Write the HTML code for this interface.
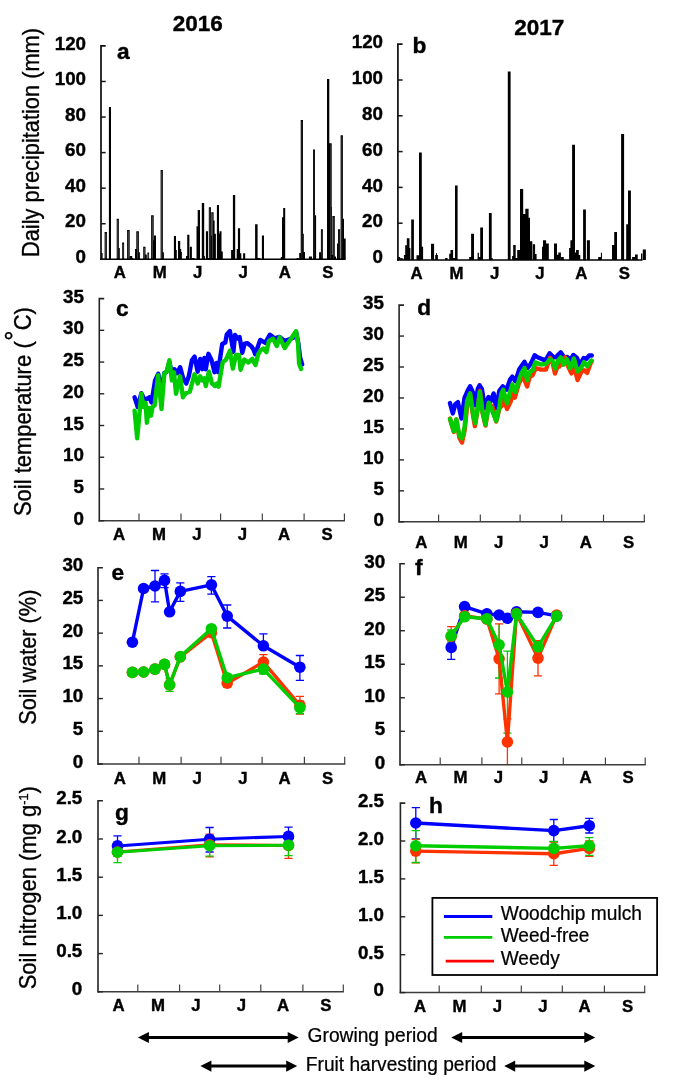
<!DOCTYPE html>
<html lang="en">
<head>
<meta charset="utf-8">
<title>Figure: precipitation, soil temperature, soil water and soil nitrogen, 2016 and 2017</title>
<style>
html,body{margin:0;padding:0;background:#fff;}
body{width:685px;height:1080px;overflow:hidden;}
svg{display:block;}
svg text{font-family:"Liberation Sans", sans-serif;fill:#000;}
</style>
</head>
<body>
<svg width="685" height="1080" viewBox="0 0 685 1080">
<rect width="685" height="1080" fill="#fff"/>
<path d="M100.9,259.5V253.0H102.6V259.5ZM104.6,259.5V232.0H106.9V259.5ZM108.9,259.5V107.0H111.0V259.5ZM116.7,259.5V218.8H118.9V259.5ZM117.9,259.5V248.1H119.8V259.5ZM122.1,259.5V242.6H124.1V259.5ZM127.1,259.5V230.1H129.7V259.5ZM129.9,259.5V256.0H132.2V259.5ZM132.2,259.5V258.0H133.3V259.5ZM135.0,259.5V249.1H137.3V259.5ZM136.3,259.5V231.3H138.9V259.5ZM138.4,259.5V252.2H139.9V259.5ZM143.2,259.5V246.7H145.5V259.5ZM145.2,259.5V254.5H146.8V259.5ZM147.4,259.5V252.5H149.1V259.5ZM151.1,259.5V215.2H153.7V259.5ZM152.7,259.5V240.2H154.2V259.5ZM154.0,259.5V235.6H156.0V259.5ZM160.6,259.5V170.0H162.9V259.5ZM161.9,259.5V252.2H163.9V259.5ZM173.9,259.5V236.1H176.0V259.5ZM175.3,259.5V249.9H176.8V259.5ZM178.0,259.5V240.9H180.2V259.5ZM179.4,259.5V249.1H181.2V259.5ZM180.6,259.5V252.0H181.9V259.5ZM186.0,259.5V256.0H187.5V259.5ZM187.2,259.5V234.8H189.4V259.5ZM189.9,259.5V246.7H191.9V259.5ZM192.1,259.5V258.0H194.7V259.5ZM196.5,259.5V226.2H198.3V259.5ZM197.7,259.5V209.9H200.0V259.5ZM201.8,259.5V202.9H204.2V259.5ZM203.4,259.5V256.0H204.9V259.5ZM205.9,259.5V231.2H208.0V259.5ZM207.8,259.5V258.0H209.0V259.5ZM208.8,259.5V207.2H211.0V259.5ZM210.0,259.5V235.8H211.8V259.5ZM211.3,259.5V212.3H213.6V259.5ZM212.8,259.5V220.5H214.6V259.5ZM214.1,259.5V233.8H215.9V259.5ZM216.9,259.5V205.0H219.0V259.5ZM218.2,259.5V233.8H220.0V259.5ZM219.5,259.5V231.2H221.5V259.5ZM221.0,259.5V251.5H222.8V259.5ZM231.1,259.5V249.9H233.1V259.5ZM232.9,259.5V194.9H235.2V259.5ZM236.7,259.5V249.1H238.5V259.5ZM237.9,259.5V228.3H240.1V259.5ZM239.2,259.5V253.2H241.3V259.5ZM243.1,259.5V253.2H245.2V259.5ZM255.1,259.5V224.2H257.6V259.5ZM257.6,259.5V258.0H260.2V259.5ZM261.9,259.5V235.6H264.0V259.5ZM280.8,259.5V257.0H282.7V259.5ZM282.0,259.5V217.2H284.0V259.5ZM283.2,259.5V208.0H285.2V259.5ZM296.6,259.5V258.0H298.7V259.5ZM299.2,259.5V253.0H301.0V259.5ZM300.7,259.5V120.1H303.0V259.5ZM302.0,259.5V233.8H303.8V259.5ZM303.3,259.5V252.0H305.0V259.5ZM308.9,259.5V256.5H312.0V259.5ZM313.0,259.5V149.4H315.0V259.5ZM314.2,259.5V215.2H316.1V259.5ZM319.1,259.5V252.2H321.0V259.5ZM320.9,259.5V229.3H322.9V259.5ZM327.0,259.5V79.1H329.3V259.5ZM329.3,259.5V143.3H331.7V259.5ZM328.8,259.5V207.0H331.9V259.5ZM331.7,259.5V255.0H333.0V259.5ZM332.4,259.5V216.0H334.8V259.5ZM334.6,259.5V256.5H336.0V259.5ZM337.0,259.5V243.6H338.8V259.5ZM338.0,259.5V229.3H340.1V259.5ZM340.6,259.5V135.3H342.9V259.5ZM341.9,259.5V218.8H344.0V259.5ZM343.1,259.5V238.5H345.7V259.5Z" fill="#000"/>
<path d="M105.75,258.5V233.2M117.80,258.5V220.0M123.10,258.5V243.8M128.40,258.5V231.3M137.60,258.5V232.5M144.35,258.5V247.9M148.25,258.5V253.7M152.40,258.5V216.4M161.75,258.5V171.2M209.90,258.5V208.4M212.45,258.5V213.5" fill="none" stroke="#fff" stroke-width="0.7" opacity="0.38"/>
<path d="M301.85,258.5V121.3M314.00,258.5V150.6M321.90,258.5V230.5M330.50,258.5V144.5M333.60,258.5V217.2M339.05,258.5V230.5M341.75,258.5V136.5" fill="none" stroke="#fff" stroke-width="0.7" opacity="0.25"/>
<path d="M397.6,260.1V257.0H400.1V260.1ZM400.1,260.1V258.5H403.2V260.1ZM403.9,260.1V255.0H406.1V260.1ZM405.2,260.1V245.3H407.1V260.1ZM406.8,260.1V238.2H409.5V260.1ZM408.3,260.1V248.1H410.4V260.1ZM411.2,260.1V219.5H413.9V260.1ZM416.5,260.1V255.2H419.0V260.1ZM419.0,260.1V152.5H421.8V260.1ZM420.4,260.1V246.7H423.1V260.1ZM431.0,260.1V243.8H434.1V260.1ZM435.2,260.1V255.0H437.9V260.1ZM436.0,260.1V253.0H436.9V260.1ZM445.1,260.1V257.9H447.6V260.1ZM449.2,260.1V253.8H451.2V260.1ZM450.5,260.1V249.9H453.1V260.1ZM452.8,260.1V257.9H455.3V260.1ZM455.0,260.1V185.5H457.6V260.1ZM469.2,260.1V257.0H471.3V260.1ZM471.1,260.1V233.8H474.0V260.1ZM477.6,260.1V252.8H478.9V260.1ZM478.4,260.1V257.0H480.5V260.1ZM480.2,260.1V227.4H483.0V260.1ZM488.9,260.1V213.1H491.7V260.1ZM491.2,260.1V258.0H492.7V260.1ZM507.8,260.1V71.6H510.6V260.1ZM512.1,260.1V256.0H514.2V260.1ZM513.2,260.1V245.0H515.7V260.1ZM515.7,260.1V258.0H517.8V260.1ZM517.2,260.1V249.9H520.1V260.1ZM520.0,260.1V189.1H523.2V260.1ZM522.9,260.1V214.0H525.5V260.1ZM525.3,260.1V208.8H528.6V260.1ZM528.2,260.1V217.7H530.0V260.1ZM529.7,260.1V241.2H532.3V260.1ZM532.8,260.1V244.3H535.1V260.1ZM534.8,260.1V254.0H536.6V260.1ZM542.0,260.1V246.7H543.5V260.1ZM543.0,260.1V240.2H546.1V260.1ZM545.8,260.1V243.6H548.8V260.1ZM554.0,260.1V243.6H557.0V260.1ZM556.8,260.1V254.8H558.9V260.1ZM558.3,260.1V252.5H560.9V260.1ZM561.1,260.1V257.0H563.8V260.1ZM569.1,260.1V248.1H571.1V260.1ZM570.4,260.1V240.2H572.6V260.1ZM572.1,260.1V144.8H575.0V260.1ZM574.7,260.1V252.5H576.2V260.1ZM576.0,260.1V249.9H578.8V260.1ZM578.5,260.1V255.0H580.3V260.1ZM583.1,260.1V209.6H585.9V260.1ZM586.9,260.1V240.2H589.9V260.1ZM598.2,260.1V257.0H601.5V260.1ZM600.9,260.1V252.8H602.0V260.1ZM612.0,260.1V245.0H614.7V260.1ZM614.2,260.1V232.0H617.0V260.1ZM621.1,260.1V134.0H624.1V260.1ZM626.2,260.1V224.2H628.2V260.1ZM628.0,260.1V190.5H630.9V260.1ZM632.1,260.1V257.0H635.2V260.1ZM635.0,260.1V254.5H637.7V260.1ZM641.0,260.1V253.5H642.3V260.1ZM642.8,260.1V249.4H645.9V260.1Z" fill="#000"/>
<path d="M134.6,397.3 L137.7,407.0 L141.3,393.2 L144.9,400.4 L146.9,398.8 L149.3,397.3 L151.5,402.4 L155.1,380.4 L158.3,373.8 L161.5,392.0 L164.3,373.0 L166.8,371.8 L169.4,362.0 L172.0,375.0 L174.5,369.2 L177.1,373.3 L180.1,367.2 L183.2,378.4 L186.2,383.5 L188.8,376.3 L192.0,360.0 L194.6,356.7 L197.7,371.7 L200.2,358.9 L202.3,369.2 L204.3,357.9 L205.8,369.2 L208.4,353.8 L211.5,360.0 L214.5,372.2 L216.4,363.0 L218.1,372.2 L222.2,344.1 L225.3,342.6 L226.8,334.4 L229.9,331.1 L233.4,351.8 L235.0,334.9 L237.5,338.5 L239.6,337.0 L242.3,352.8 L244.7,343.6 L247.2,343.1 L251.3,346.2 L253.5,349.5 L255.2,354.3 L260.2,339.9 L265.3,342.9 L269.9,334.7 L274.5,338.3 L279.6,337.0 L284.7,340.9 L287.8,339.9 L292.9,338.0 L296.0,331.7 L298.3,342.9 L300.0,357.0 L302.1,364.4" fill="none" stroke="#0000ff" stroke-width="4.4" stroke-linejoin="round" stroke-linecap="round" />
<path d="M134.6,410.6 L137.2,438.2 L141.3,393.7 L143.3,407.0 L145.6,402.9 L146.9,422.8 L148.9,408.0 L151.0,415.7 L152.5,407.0 L154.6,405.5 L158.1,375.3 L161.5,409.0 L164.3,373.8 L167.0,370.7 L169.4,360.2 L171.9,380.4 L174.0,372.3 L176.0,393.7 L180.1,376.3 L182.9,397.3 L185.7,393.2 L189.8,391.7 L194.5,374.3 L197.7,383.5 L200.2,376.3 L202.3,380.4 L204.3,378.4 L205.8,386.0 L208.9,371.7 L212.0,383.5 L215.0,386.0 L216.8,383.5 L218.6,386.5 L222.7,362.0 L225.8,360.0 L229.9,350.8 L232.9,368.6 L236.0,354.9 L239.0,354.9 L240.6,369.7 L244.2,359.5 L248.2,362.5 L252.3,358.9 L255.5,365.0 L258.2,354.2 L260.7,350.1 L263.3,348.5 L266.4,352.1 L268.9,340.9 L273.0,338.8 L276.8,346.0 L279.6,337.3 L284.7,348.0 L290.9,338.8 L296.0,331.2 L298.0,342.9 L299.1,363.4 L301.1,369.0" fill="none" stroke="#00cc00" stroke-width="4.4" stroke-linejoin="round" stroke-linecap="round" />
<path d="M450.0,403.1 L452.8,413.4 L455.3,404.2 L457.9,402.1 L461.5,418.5 L464.5,398.0 L467.6,390.9 L470.1,386.3 L473.2,392.9 L475.3,405.2 L477.8,388.8 L479.6,385.3 L481.9,389.0 L485.0,408.2 L488.5,397.0 L491.0,401.0 L493.6,393.4 L496.2,408.2 L499.3,390.9 L502.8,386.3 L506.5,389.7 L510.2,379.3 L512.3,376.7 L515.3,381.3 L519.4,369.0 L524.5,361.9 L527.6,368.0 L530.7,363.9 L534.7,355.3 L538.8,357.8 L543.9,359.9 L546.5,358.8 L549.6,353.2 L553.1,356.8 L555.7,357.4 L560.7,352.3 L564.3,357.4 L567.3,357.0 L570.3,360.1 L573.4,355.0 L577.0,358.0 L579.5,365.2 L583.6,358.0 L586.2,359.0 L589.2,355.5 L591.8,355.5" fill="none" stroke="#0000ff" stroke-width="4.4" stroke-linejoin="round" stroke-linecap="round" />
<path d="M450.0,418.5 L453.8,432.0 L456.3,419.5 L459.4,437.9 L462.0,442.5 L464.8,429.5 L467.4,403.0 L470.1,393.9 L473.2,416.4 L474.9,426.1 L477.8,408.2 L479.9,390.9 L482.4,412.3 L485.5,425.6 L488.8,403.1 L492.6,407.2 L496.2,421.5 L499.6,408.0 L502.3,405.2 L503.4,398.0 L507.0,408.9 L510.7,401.5 L512.3,393.5 L514.8,397.7 L518.9,383.4 L523.0,376.2 L527.1,386.4 L529.6,377.2 L532.7,375.2 L535.8,368.0 L540.9,369.6 L546.0,369.6 L550.1,357.8 L552.6,362.9 L555.0,373.6 L557.7,366.0 L559.3,366.5 L561.3,360.9 L563.3,364.6 L565.2,357.3 L568.0,366.1 L571.4,373.4 L574.4,367.2 L577.5,380.0 L581.6,371.3 L584.1,370.3 L587.2,372.8 L590.2,364.2 L591.8,361.1" fill="none" stroke="#ff3300" stroke-width="4.4" stroke-linejoin="round" stroke-linecap="round" />
<path d="M450.0,419.0 L453.8,431.2 L456.3,419.5 L459.4,435.8 L462.0,438.4 L464.5,427.7 L467.1,401.1 L470.1,393.4 L473.2,415.4 L475.3,423.1 L477.8,407.2 L479.9,391.9 L482.4,411.3 L485.5,424.6 L488.8,402.6 L492.1,410.8 L496.2,421.0 L499.3,407.2 L501.3,393.9 L503.2,389.7 L507.0,403.2 L512.3,384.4 L515.3,392.0 L518.9,380.3 L521.5,373.1 L524.5,368.0 L527.1,380.3 L529.6,372.1 L532.7,370.1 L535.3,362.4 L540.9,364.5 L546.0,363.9 L550.1,359.3 L552.6,360.9 L555.2,368.5 L557.7,361.0 L560.7,357.4 L563.3,364.6 L566.8,359.1 L570.2,368.1 L573.9,358.5 L577.5,371.3 L581.0,368.0 L584.1,362.1 L587.2,366.2 L591.3,360.6" fill="none" stroke="#00cc00" stroke-width="4.4" stroke-linejoin="round" stroke-linecap="round" />
<path d="M155.0,570.5V601.9M150.9,570.5H159.1M150.9,601.9H159.1M164.5,573.9V587.7M160.4,573.9H168.6M160.4,587.7H168.6M180.3,582.9V601.3M176.2,582.9H184.4M176.2,601.3H184.4M211.4,576.6V594.2M207.3,576.6H215.5M207.3,594.2H215.5M227.2,605.0V628.0M223.1,605.0H231.3M223.1,628.0H231.3M263.4,633.9V650.0M259.3,633.9H267.5M299.9,655.5V680.4M295.8,655.5H304.0M295.8,680.4H304.0" fill="none" stroke="#0000ff" stroke-width="1.3"/>
<path d="M263.4,654.6V669.6M259.3,654.6H267.5M259.3,669.6H267.5M299.9,696.3V714.2M295.8,696.3H304.0M295.8,714.2H304.0M227.2,679.0V687.0M223.1,679.0H231.3M223.1,687.0H231.3" fill="none" stroke="#ff3300" stroke-width="1.3"/>
<path d="M169.6,678.5V691.4M165.5,678.5H173.7M165.5,691.4H173.7M299.9,701.0V713.6M295.8,701.0H304.0M295.8,713.6H304.0M263.4,664.0V674.0M259.3,664.0H267.5M259.3,674.0H267.5" fill="none" stroke="#00cc00" stroke-width="1.3"/>
<path d="M132.4,642.2 L143.6,588.5 L155.0,586.0 L164.5,580.4 L169.6,611.8 L180.3,591.4 L211.4,584.9 L227.2,616.1 L263.4,645.8 L299.9,667.2" fill="none" stroke="#0000ff" stroke-width="3.4" stroke-linejoin="round" stroke-linecap="round" />
<g fill="#0000ff"><circle cx="132.4" cy="642.2" r="5.8"/><circle cx="143.6" cy="588.5" r="5.8"/><circle cx="155.0" cy="586.0" r="5.8"/><circle cx="164.5" cy="580.4" r="5.8"/><circle cx="169.6" cy="611.8" r="5.8"/><circle cx="180.3" cy="591.4" r="5.8"/><circle cx="211.4" cy="584.9" r="5.8"/><circle cx="227.2" cy="616.1" r="5.8"/><circle cx="263.4" cy="645.8" r="5.8"/><circle cx="299.9" cy="667.2" r="5.8"/></g>
<path d="M132.4,672.4 L143.6,672.0 L155.0,669.1 L164.5,664.4 L169.6,684.8 L180.3,657.0 L211.4,632.7 L227.2,683.2 L263.4,662.1 L299.9,705.4" fill="none" stroke="#ff3300" stroke-width="3.4" stroke-linejoin="round" stroke-linecap="round" />
<g fill="#ff3300"><circle cx="132.4" cy="672.4" r="5.8"/><circle cx="143.6" cy="672.0" r="5.8"/><circle cx="155.0" cy="669.1" r="5.8"/><circle cx="164.5" cy="664.4" r="5.8"/><circle cx="169.6" cy="684.8" r="5.8"/><circle cx="180.3" cy="657.0" r="5.8"/><circle cx="211.4" cy="632.7" r="5.8"/><circle cx="227.2" cy="683.2" r="5.8"/><circle cx="263.4" cy="662.1" r="5.8"/><circle cx="299.9" cy="705.4" r="5.8"/></g>
<path d="M132.4,672.4 L143.6,672.0 L155.0,669.1 L164.5,664.4 L169.6,684.8 L180.3,656.6 L211.4,628.7 L227.2,677.7 L263.4,669.1 L299.9,707.7" fill="none" stroke="#00cc00" stroke-width="3.4" stroke-linejoin="round" stroke-linecap="round" />
<g fill="#00cc00"><circle cx="132.4" cy="672.4" r="5.8"/><circle cx="143.6" cy="672.0" r="5.8"/><circle cx="155.0" cy="669.1" r="5.8"/><circle cx="164.5" cy="664.4" r="5.8"/><circle cx="169.6" cy="684.8" r="5.8"/><circle cx="180.3" cy="656.6" r="5.8"/><circle cx="211.4" cy="628.7" r="5.8"/><circle cx="227.2" cy="677.7" r="5.8"/><circle cx="263.4" cy="669.1" r="5.8"/><circle cx="299.9" cy="707.7" r="5.8"/></g>
<path d="M451.2,636.0V659.3M447.1,636.0H455.3M447.1,659.3H455.3" fill="none" stroke="#0000ff" stroke-width="1.3"/>
<path d="M451.2,626.7V646.0M447.1,626.7H455.3M447.1,646.0H455.3M499.1,623.8V693.9M495.0,623.8H503.2M495.0,693.9H503.2M507.4,718.8V764.0M503.3,718.8H511.5M538.0,640.6V675.9M533.9,640.6H542.1M533.9,675.9H542.1" fill="none" stroke="#ff3300" stroke-width="1.3"/>
<path d="M451.2,630.0V642.0M447.1,630.0H455.3M447.1,642.0H455.3M499.1,624.4V678.0M495.0,678.0H503.2M507.4,651.1V733.1M503.3,651.1H511.5M503.3,733.1H511.5" fill="none" stroke="#00cc00" stroke-width="1.3"/>
<path d="M451.2,647.4 L464.6,606.6 L486.9,613.9 L499.1,615.0 L507.4,618.2 L516.5,611.8 L538.0,612.4 L556.6,615.8" fill="none" stroke="#0000ff" stroke-width="3.4" stroke-linejoin="round" stroke-linecap="round" />
<g fill="#0000ff"><circle cx="451.2" cy="647.4" r="5.8"/><circle cx="464.6" cy="606.6" r="5.8"/><circle cx="486.9" cy="613.9" r="5.8"/><circle cx="499.1" cy="615.0" r="5.8"/><circle cx="507.4" cy="618.2" r="5.8"/><circle cx="516.5" cy="611.8" r="5.8"/><circle cx="538.0" cy="612.4" r="5.8"/><circle cx="556.6" cy="615.8" r="5.8"/></g>
<path d="M451.2,636.5 L464.6,615.8 L486.9,619.2 L499.1,658.8 L507.4,741.9 L516.5,613.5 L538.0,658.1 L556.6,615.0" fill="none" stroke="#ff3300" stroke-width="3.4" stroke-linejoin="round" stroke-linecap="round" />
<g fill="#ff3300"><circle cx="451.2" cy="636.5" r="5.8"/><circle cx="464.6" cy="615.8" r="5.8"/><circle cx="486.9" cy="619.2" r="5.8"/><circle cx="499.1" cy="658.8" r="5.8"/><circle cx="507.4" cy="741.9" r="5.8"/><circle cx="516.5" cy="613.5" r="5.8"/><circle cx="538.0" cy="658.1" r="5.8"/><circle cx="556.6" cy="615.0" r="5.8"/></g>
<path d="M451.2,635.8 L464.6,616.8 L486.9,618.7 L499.1,644.8 L507.4,692.0 L516.5,613.9 L538.0,646.8 L556.6,616.1" fill="none" stroke="#00cc00" stroke-width="3.4" stroke-linejoin="round" stroke-linecap="round" />
<g fill="#00cc00"><circle cx="451.2" cy="635.8" r="5.8"/><circle cx="464.6" cy="616.8" r="5.8"/><circle cx="486.9" cy="618.7" r="5.8"/><circle cx="499.1" cy="644.8" r="5.8"/><circle cx="507.4" cy="692.0" r="5.8"/><circle cx="516.5" cy="613.9" r="5.8"/><circle cx="538.0" cy="646.8" r="5.8"/><circle cx="556.6" cy="616.1" r="5.8"/></g>
<path d="M117.5,835.9V856.0M113.4,835.9H121.6M113.4,856.0H121.6M209.6,827.5V852.0M205.5,827.5H213.7M205.5,852.0H213.7M288.5,827.2V845.6M284.4,827.2H292.6M284.4,845.6H292.6" fill="none" stroke="#0000ff" stroke-width="1.3"/>
<path d="M117.5,843.0V860.0M113.4,843.0H121.6M209.6,834.2V856.9M205.5,834.2H213.7M205.5,856.9H213.7M288.5,833.0V858.3M284.4,833.0H292.6M284.4,858.3H292.6" fill="none" stroke="#ff3300" stroke-width="1.3"/>
<path d="M117.5,842.0V862.7M113.4,842.0H121.6M113.4,862.7H121.6M209.6,835.5V856.1M205.5,835.5H213.7M205.5,856.1H213.7M288.5,834.7V855.7M284.4,834.7H292.6M284.4,855.7H292.6" fill="none" stroke="#00cc00" stroke-width="1.3"/>
<path d="M117.5,845.9 L209.6,839.2 L288.5,836.4" fill="none" stroke="#0000ff" stroke-width="3.0" stroke-linejoin="round" stroke-linecap="round" />
<g fill="#0000ff"><circle cx="117.5" cy="845.9" r="5.8"/><circle cx="209.6" cy="839.2" r="5.8"/><circle cx="288.5" cy="836.4" r="5.8"/></g>
<path d="M117.5,852.0 L209.6,844.7 L288.5,845.4" fill="none" stroke="#ff3300" stroke-width="3.0" stroke-linejoin="round" stroke-linecap="round" />
<g fill="#ff3300"><circle cx="117.5" cy="852.0" r="5.8"/><circle cx="209.6" cy="844.7" r="5.8"/><circle cx="288.5" cy="845.4" r="5.8"/></g>
<path d="M117.5,852.2 L209.6,845.7 L288.5,845.2" fill="none" stroke="#00cc00" stroke-width="3.0" stroke-linejoin="round" stroke-linecap="round" />
<g fill="#00cc00"><circle cx="117.5" cy="852.2" r="5.8"/><circle cx="209.6" cy="845.7" r="5.8"/><circle cx="288.5" cy="845.2" r="5.8"/></g>
<path d="M415.8,807.6V838.8M411.7,807.6H419.9M411.7,838.8H419.9M553.8,819.5V841.6M549.7,819.5H557.9M549.7,841.6H557.9M589.3,818.3V833.0M585.2,818.3H593.4M585.2,833.0H593.4" fill="none" stroke="#0000ff" stroke-width="1.3"/>
<path d="M415.8,839.3V862.8M411.7,839.3H419.9M411.7,862.8H419.9M553.8,842.2V865.4M549.7,842.2H557.9M549.7,865.4H557.9M589.3,841.0V856.3M585.2,841.0H593.4M585.2,856.3H593.4" fill="none" stroke="#ff3300" stroke-width="1.3"/>
<path d="M415.8,830.6V862.5M411.7,830.6H419.9M411.7,862.5H419.9M553.8,841.4V855.5M549.7,841.4H557.9M549.7,855.5H557.9M589.3,837.6V855.4M585.2,837.6H593.4M585.2,855.4H593.4" fill="none" stroke="#00cc00" stroke-width="1.3"/>
<path d="M415.8,823.0 L553.8,830.6 L589.3,825.7" fill="none" stroke="#0000ff" stroke-width="3.4" stroke-linejoin="round" stroke-linecap="round" />
<g fill="#0000ff"><circle cx="415.8" cy="823.0" r="5.8"/><circle cx="553.8" cy="830.6" r="5.8"/><circle cx="589.3" cy="825.7" r="5.8"/></g>
<path d="M415.8,851.1 L553.8,853.7 L589.3,848.4" fill="none" stroke="#ff3300" stroke-width="3.4" stroke-linejoin="round" stroke-linecap="round" />
<g fill="#ff3300"><circle cx="415.8" cy="851.1" r="5.8"/><circle cx="553.8" cy="853.7" r="5.8"/><circle cx="589.3" cy="848.4" r="5.8"/></g>
<path d="M415.8,845.8 L553.8,848.4 L589.3,845.8" fill="none" stroke="#00cc00" stroke-width="3.4" stroke-linejoin="round" stroke-linecap="round" />
<g fill="#00cc00"><circle cx="415.8" cy="845.8" r="5.8"/><circle cx="553.8" cy="848.4" r="5.8"/><circle cx="589.3" cy="845.8" r="5.8"/></g>
<rect x="432.4" y="897.9" width="224.7" height="77.1" fill="#fff" stroke="#000" stroke-width="1.8"/>
<line x1="443.90" y1="916.50" x2="492.30" y2="916.50" stroke="#0000ff" stroke-width="2.8" />
<line x1="443.90" y1="937.30" x2="492.30" y2="937.30" stroke="#00cc00" stroke-width="2.8" />
<line x1="445.70" y1="961.10" x2="494.00" y2="961.10" stroke="#ff0000" stroke-width="2.8" />
<text transform="translate(500.70,919.60) scale(0.965,1)" font-size="19.8" font-weight="normal" text-anchor="start" stroke="#000" stroke-width="0.25" textLength="146.3" lengthAdjust="spacingAndGlyphs">Woodchip mulch</text>
<text transform="translate(500.70,942.40) scale(0.965,1)" font-size="19.8" font-weight="normal" text-anchor="start" stroke="#000" stroke-width="0.25" >Weed-free</text>
<text transform="translate(500.70,964.60) scale(0.965,1)" font-size="19.8" font-weight="normal" text-anchor="start" stroke="#000" stroke-width="0.25" >Weedy</text>
<text x="197.70" y="31.30" font-size="22.5" font-weight="bold" text-anchor="middle" stroke="#000" stroke-width="0.4" >2016</text>
<text x="539.30" y="35.10" font-size="22.5" font-weight="bold" text-anchor="middle" stroke="#000" stroke-width="0.4" >2017</text>
<text transform="translate(39.40,257.00) rotate(-90) scale(0.944,1)" font-size="23.3" stroke="#000" stroke-width="0.35"><tspan textLength="242.6" lengthAdjust="spacingAndGlyphs">Daily precipitation (mm)</tspan></text>
<text transform="translate(31.40,516.10) rotate(-90) scale(0.944,1)" font-size="23.3" stroke="#000" stroke-width="0.35"><tspan x="0">Soil temperature</tspan><tspan x="177.5">(</tspan><tspan x="185.8" dy="-7.7" font-size="27">°</tspan><tspan x="196.8" dy="7.7">C)</tspan></text>
<text transform="translate(36.40,724.80) rotate(-90) scale(0.944,1)" font-size="23.3" stroke="#000" stroke-width="0.35"><tspan textLength="143.2" lengthAdjust="spacingAndGlyphs">Soil water (%)</tspan></text>
<text transform="translate(36.20,989.30) rotate(-90) scale(0.944,1)" font-size="23.3" stroke="#000" stroke-width="0.35"><tspan x="0">Soil nitrogen (mg g</tspan><tspan dy="-8.5" font-size="13.5">-1</tspan><tspan dy="8.5">)</tspan></text>
<path d="M147.9,1037.5H288.7" stroke="#000" stroke-width="3.0" fill="none"/>
<path d="M137.9,1037.5l11,-5.6v11.2zM298.7,1037.5l-11,-5.6v11.2z" fill="#000"/>
<path d="M210.4,1066.1H287.2" stroke="#000" stroke-width="3.0" fill="none"/>
<path d="M200.4,1066.1l11,-5.6v11.2zM297.2,1066.1l-11,-5.6v11.2z" fill="#000"/>
<path d="M461.2,1037.5H585.3" stroke="#000" stroke-width="3.0" fill="none"/>
<path d="M451.2,1037.5l11,-5.6v11.2zM595.3,1037.5l-11,-5.6v11.2z" fill="#000"/>
<path d="M514.2,1066.1H585.3" stroke="#000" stroke-width="3.0" fill="none"/>
<path d="M504.2,1066.1l11,-5.6v11.2zM595.3,1066.1l-11,-5.6v11.2z" fill="#000"/>
<text transform="translate(307.60,1042.20) scale(0.965,1)" font-size="19.8" font-weight="normal" text-anchor="start" stroke="#000" stroke-width="0.25" textLength="134.8" lengthAdjust="spacingAndGlyphs">Growing period</text>
<text transform="translate(305.80,1070.50) scale(0.965,1)" font-size="19.8" font-weight="normal" text-anchor="start" stroke="#000" stroke-width="0.25" textLength="197.5" lengthAdjust="spacingAndGlyphs">Fruit harvesting period</text>
<path d="M105.70,45.90 H101.00 V260.00" fill="none" stroke="#141414" stroke-width="1.75"/>
<path d="M100.12,259.30 H345.50" fill="none" stroke="#000" stroke-width="1.4"/>
<line x1="101.00" y1="259.30" x2="105.70" y2="259.30" stroke="#141414" stroke-width="1.5" />
<text transform="translate(86.00,262.90) scale(1.02,1)" font-size="18.4" font-weight="bold" text-anchor="end" stroke="#000" stroke-width="0.4" >0</text>
<line x1="101.00" y1="223.73" x2="105.70" y2="223.73" stroke="#141414" stroke-width="1.5" />
<text transform="translate(86.00,227.33) scale(1.02,1)" font-size="18.4" font-weight="bold" text-anchor="end" stroke="#000" stroke-width="0.4" >20</text>
<line x1="101.00" y1="188.17" x2="105.70" y2="188.17" stroke="#141414" stroke-width="1.5" />
<text transform="translate(86.00,191.77) scale(1.02,1)" font-size="18.4" font-weight="bold" text-anchor="end" stroke="#000" stroke-width="0.4" >40</text>
<line x1="101.00" y1="152.60" x2="105.70" y2="152.60" stroke="#141414" stroke-width="1.5" />
<text transform="translate(86.00,156.20) scale(1.02,1)" font-size="18.4" font-weight="bold" text-anchor="end" stroke="#000" stroke-width="0.4" >60</text>
<line x1="101.00" y1="117.03" x2="105.70" y2="117.03" stroke="#141414" stroke-width="1.5" />
<text transform="translate(86.00,120.63) scale(1.02,1)" font-size="18.4" font-weight="bold" text-anchor="end" stroke="#000" stroke-width="0.4" >80</text>
<line x1="101.00" y1="81.47" x2="105.70" y2="81.47" stroke="#141414" stroke-width="1.5" />
<text transform="translate(86.00,85.07) scale(1.02,1)" font-size="18.4" font-weight="bold" text-anchor="end" stroke="#000" stroke-width="0.4" >100</text>
<text transform="translate(86.00,49.50) scale(1.02,1)" font-size="18.4" font-weight="bold" text-anchor="end" stroke="#000" stroke-width="0.4" >120</text>
<text x="119.90" y="278.40" font-size="16.8" font-weight="bold" text-anchor="middle" stroke="#000" stroke-width="0.4" >A</text>
<text x="159.70" y="278.40" font-size="16.8" font-weight="bold" text-anchor="middle" stroke="#000" stroke-width="0.4" >M</text>
<text x="197.70" y="278.40" font-size="16.8" font-weight="bold" text-anchor="middle" stroke="#000" stroke-width="0.4" >J</text>
<text x="243.10" y="278.40" font-size="16.8" font-weight="bold" text-anchor="middle" stroke="#000" stroke-width="0.4" >J</text>
<text x="284.70" y="278.40" font-size="16.8" font-weight="bold" text-anchor="middle" stroke="#000" stroke-width="0.4" >A</text>
<text x="327.90" y="278.40" font-size="16.8" font-weight="bold" text-anchor="middle" stroke="#000" stroke-width="0.4" >S</text>
<text transform="translate(117.00,59.00) scale(1.03,1)" font-size="22" font-weight="bold" text-anchor="start" stroke="#000" stroke-width="0.4" >a</text>
<path d="M402.60,44.20 H397.90 V260.70" fill="none" stroke="#141414" stroke-width="1.75"/>
<path d="M397.02,260.00 H642.50" fill="none" stroke="#000" stroke-width="1.4"/>
<line x1="397.90" y1="259.00" x2="402.60" y2="259.00" stroke="#141414" stroke-width="1.5" />
<text transform="translate(383.00,263.20) scale(1.02,1)" font-size="18.4" font-weight="bold" text-anchor="end" stroke="#000" stroke-width="0.4" >0</text>
<line x1="397.90" y1="223.20" x2="402.60" y2="223.20" stroke="#141414" stroke-width="1.5" />
<text transform="translate(383.00,227.40) scale(1.02,1)" font-size="18.4" font-weight="bold" text-anchor="end" stroke="#000" stroke-width="0.4" >20</text>
<line x1="397.90" y1="187.40" x2="402.60" y2="187.40" stroke="#141414" stroke-width="1.5" />
<text transform="translate(383.00,191.60) scale(1.02,1)" font-size="18.4" font-weight="bold" text-anchor="end" stroke="#000" stroke-width="0.4" >40</text>
<line x1="397.90" y1="151.60" x2="402.60" y2="151.60" stroke="#141414" stroke-width="1.5" />
<text transform="translate(383.00,155.80) scale(1.02,1)" font-size="18.4" font-weight="bold" text-anchor="end" stroke="#000" stroke-width="0.4" >60</text>
<line x1="397.90" y1="115.80" x2="402.60" y2="115.80" stroke="#141414" stroke-width="1.5" />
<text transform="translate(383.00,120.00) scale(1.02,1)" font-size="18.4" font-weight="bold" text-anchor="end" stroke="#000" stroke-width="0.4" >80</text>
<line x1="397.90" y1="80.00" x2="402.60" y2="80.00" stroke="#141414" stroke-width="1.5" />
<text transform="translate(383.00,84.20) scale(1.02,1)" font-size="18.4" font-weight="bold" text-anchor="end" stroke="#000" stroke-width="0.4" >100</text>
<text transform="translate(383.00,48.40) scale(1.02,1)" font-size="18.4" font-weight="bold" text-anchor="end" stroke="#000" stroke-width="0.4" >120</text>
<text x="416.60" y="278.80" font-size="16.8" font-weight="bold" text-anchor="middle" stroke="#000" stroke-width="0.4" >A</text>
<text x="456.40" y="278.80" font-size="16.8" font-weight="bold" text-anchor="middle" stroke="#000" stroke-width="0.4" >M</text>
<text x="494.70" y="278.80" font-size="16.8" font-weight="bold" text-anchor="middle" stroke="#000" stroke-width="0.4" >J</text>
<text x="540.00" y="278.80" font-size="16.8" font-weight="bold" text-anchor="middle" stroke="#000" stroke-width="0.4" >J</text>
<text x="581.40" y="278.80" font-size="16.8" font-weight="bold" text-anchor="middle" stroke="#000" stroke-width="0.4" >A</text>
<text x="624.40" y="278.80" font-size="16.8" font-weight="bold" text-anchor="middle" stroke="#000" stroke-width="0.4" >S</text>
<text transform="translate(412.60,52.90) scale(1.03,1)" font-size="22" font-weight="bold" text-anchor="start" stroke="#000" stroke-width="0.4" >b</text>
<path d="M104.20,298.60 H99.30 V521.45" fill="none" stroke="#242424" stroke-width="1.6"/>
<path d="M98.50,520.70 H344.97" fill="none" stroke="#3c3c3c" stroke-width="1.5"/>
<line x1="99.30" y1="520.70" x2="104.20" y2="520.70" stroke="#242424" stroke-width="1.4" />
<text transform="translate(84.00,524.80) scale(1.02,1)" font-size="18.4" font-weight="bold" text-anchor="end" stroke="#000" stroke-width="0.4" >0</text>
<line x1="99.30" y1="488.97" x2="104.20" y2="488.97" stroke="#242424" stroke-width="1.4" />
<text transform="translate(84.00,493.07) scale(1.02,1)" font-size="18.4" font-weight="bold" text-anchor="end" stroke="#000" stroke-width="0.4" >5</text>
<line x1="99.30" y1="457.24" x2="104.20" y2="457.24" stroke="#242424" stroke-width="1.4" />
<text transform="translate(84.00,461.34) scale(1.02,1)" font-size="18.4" font-weight="bold" text-anchor="end" stroke="#000" stroke-width="0.4" >10</text>
<line x1="99.30" y1="425.51" x2="104.20" y2="425.51" stroke="#242424" stroke-width="1.4" />
<text transform="translate(84.00,429.61) scale(1.02,1)" font-size="18.4" font-weight="bold" text-anchor="end" stroke="#000" stroke-width="0.4" >15</text>
<line x1="99.30" y1="393.79" x2="104.20" y2="393.79" stroke="#242424" stroke-width="1.4" />
<text transform="translate(84.00,397.89) scale(1.02,1)" font-size="18.4" font-weight="bold" text-anchor="end" stroke="#000" stroke-width="0.4" >20</text>
<line x1="99.30" y1="362.06" x2="104.20" y2="362.06" stroke="#242424" stroke-width="1.4" />
<text transform="translate(84.00,366.16) scale(1.02,1)" font-size="18.4" font-weight="bold" text-anchor="end" stroke="#000" stroke-width="0.4" >25</text>
<line x1="99.30" y1="330.33" x2="104.20" y2="330.33" stroke="#242424" stroke-width="1.4" />
<text transform="translate(84.00,334.43) scale(1.02,1)" font-size="18.4" font-weight="bold" text-anchor="end" stroke="#000" stroke-width="0.4" >30</text>
<text transform="translate(84.00,302.70) scale(1.02,1)" font-size="18.4" font-weight="bold" text-anchor="end" stroke="#000" stroke-width="0.4" >35</text>
<line x1="139.00" y1="520.70" x2="139.00" y2="513.50" stroke="#3c3c3c" stroke-width="1.15" />
<line x1="181.00" y1="520.70" x2="181.00" y2="513.50" stroke="#3c3c3c" stroke-width="1.15" />
<line x1="220.60" y1="520.70" x2="220.60" y2="513.50" stroke="#3c3c3c" stroke-width="1.15" />
<line x1="262.30" y1="520.70" x2="262.30" y2="513.50" stroke="#3c3c3c" stroke-width="1.15" />
<line x1="304.10" y1="520.70" x2="304.10" y2="513.50" stroke="#3c3c3c" stroke-width="1.15" />
<line x1="344.40" y1="520.70" x2="344.40" y2="513.50" stroke="#3c3c3c" stroke-width="1.15" />
<text x="119.10" y="539.90" font-size="16.8" font-weight="bold" text-anchor="middle" stroke="#000" stroke-width="0.4" >A</text>
<text x="159.00" y="539.90" font-size="16.8" font-weight="bold" text-anchor="middle" stroke="#000" stroke-width="0.4" >M</text>
<text x="197.00" y="539.90" font-size="16.8" font-weight="bold" text-anchor="middle" stroke="#000" stroke-width="0.4" >J</text>
<text x="242.40" y="539.90" font-size="16.8" font-weight="bold" text-anchor="middle" stroke="#000" stroke-width="0.4" >J</text>
<text x="284.00" y="539.90" font-size="16.8" font-weight="bold" text-anchor="middle" stroke="#000" stroke-width="0.4" >A</text>
<text x="327.10" y="539.90" font-size="16.8" font-weight="bold" text-anchor="middle" stroke="#000" stroke-width="0.4" >S</text>
<text transform="translate(116.00,316.00) scale(1.03,1)" font-size="22" font-weight="bold" text-anchor="start" stroke="#000" stroke-width="0.4" >c</text>
<path d="M404.00,305.10 H399.10 V522.55" fill="none" stroke="#242424" stroke-width="1.6"/>
<path d="M398.30,521.80 H644.88" fill="none" stroke="#3c3c3c" stroke-width="1.5"/>
<line x1="399.10" y1="521.80" x2="404.00" y2="521.80" stroke="#242424" stroke-width="1.4" />
<text transform="translate(384.00,525.80) scale(1.02,1)" font-size="18.4" font-weight="bold" text-anchor="end" stroke="#000" stroke-width="0.4" >0</text>
<line x1="399.10" y1="490.84" x2="404.00" y2="490.84" stroke="#242424" stroke-width="1.4" />
<text transform="translate(384.00,494.84) scale(1.02,1)" font-size="18.4" font-weight="bold" text-anchor="end" stroke="#000" stroke-width="0.4" >5</text>
<line x1="399.10" y1="459.89" x2="404.00" y2="459.89" stroke="#242424" stroke-width="1.4" />
<text transform="translate(384.00,463.89) scale(1.02,1)" font-size="18.4" font-weight="bold" text-anchor="end" stroke="#000" stroke-width="0.4" >10</text>
<line x1="399.10" y1="428.93" x2="404.00" y2="428.93" stroke="#242424" stroke-width="1.4" />
<text transform="translate(384.00,432.93) scale(1.02,1)" font-size="18.4" font-weight="bold" text-anchor="end" stroke="#000" stroke-width="0.4" >15</text>
<line x1="399.10" y1="397.97" x2="404.00" y2="397.97" stroke="#242424" stroke-width="1.4" />
<text transform="translate(384.00,401.97) scale(1.02,1)" font-size="18.4" font-weight="bold" text-anchor="end" stroke="#000" stroke-width="0.4" >20</text>
<line x1="399.10" y1="367.01" x2="404.00" y2="367.01" stroke="#242424" stroke-width="1.4" />
<text transform="translate(384.00,371.01) scale(1.02,1)" font-size="18.4" font-weight="bold" text-anchor="end" stroke="#000" stroke-width="0.4" >25</text>
<line x1="399.10" y1="336.06" x2="404.00" y2="336.06" stroke="#242424" stroke-width="1.4" />
<text transform="translate(384.00,340.06) scale(1.02,1)" font-size="18.4" font-weight="bold" text-anchor="end" stroke="#000" stroke-width="0.4" >30</text>
<text transform="translate(384.00,309.10) scale(1.02,1)" font-size="18.4" font-weight="bold" text-anchor="end" stroke="#000" stroke-width="0.4" >35</text>
<line x1="438.60" y1="521.80" x2="438.60" y2="514.60" stroke="#3c3c3c" stroke-width="1.15" />
<line x1="480.30" y1="521.80" x2="480.30" y2="514.60" stroke="#3c3c3c" stroke-width="1.15" />
<line x1="520.10" y1="521.80" x2="520.10" y2="514.60" stroke="#3c3c3c" stroke-width="1.15" />
<line x1="561.70" y1="521.80" x2="561.70" y2="514.60" stroke="#3c3c3c" stroke-width="1.15" />
<line x1="603.50" y1="521.80" x2="603.50" y2="514.60" stroke="#3c3c3c" stroke-width="1.15" />
<line x1="644.30" y1="521.80" x2="644.30" y2="514.60" stroke="#3c3c3c" stroke-width="1.15" />
<text x="421.40" y="547.80" font-size="16.8" font-weight="bold" text-anchor="middle" stroke="#000" stroke-width="0.4" >A</text>
<text x="460.70" y="547.80" font-size="16.8" font-weight="bold" text-anchor="middle" stroke="#000" stroke-width="0.4" >M</text>
<text x="498.70" y="547.80" font-size="16.8" font-weight="bold" text-anchor="middle" stroke="#000" stroke-width="0.4" >J</text>
<text x="544.10" y="547.80" font-size="16.8" font-weight="bold" text-anchor="middle" stroke="#000" stroke-width="0.4" >J</text>
<text x="585.80" y="547.80" font-size="16.8" font-weight="bold" text-anchor="middle" stroke="#000" stroke-width="0.4" >A</text>
<text x="628.70" y="547.80" font-size="16.8" font-weight="bold" text-anchor="middle" stroke="#000" stroke-width="0.4" >S</text>
<text transform="translate(417.30,315.20) scale(1.03,1)" font-size="22" font-weight="bold" text-anchor="start" stroke="#000" stroke-width="0.4" >d</text>
<path d="M102.90,567.70 H98.00 V764.75" fill="none" stroke="#242424" stroke-width="1.6"/>
<path d="M97.20,764.00 H345.27" fill="none" stroke="#3c3c3c" stroke-width="1.5"/>
<line x1="98.00" y1="764.00" x2="102.90" y2="764.00" stroke="#242424" stroke-width="1.4" />
<text transform="translate(83.30,767.60) scale(1.02,1)" font-size="18.4" font-weight="bold" text-anchor="end" stroke="#000" stroke-width="0.4" >0</text>
<line x1="98.00" y1="731.28" x2="102.90" y2="731.28" stroke="#242424" stroke-width="1.4" />
<text transform="translate(83.30,734.88) scale(1.02,1)" font-size="18.4" font-weight="bold" text-anchor="end" stroke="#000" stroke-width="0.4" >5</text>
<line x1="98.00" y1="698.57" x2="102.90" y2="698.57" stroke="#242424" stroke-width="1.4" />
<text transform="translate(83.30,702.17) scale(1.02,1)" font-size="18.4" font-weight="bold" text-anchor="end" stroke="#000" stroke-width="0.4" >10</text>
<line x1="98.00" y1="665.85" x2="102.90" y2="665.85" stroke="#242424" stroke-width="1.4" />
<text transform="translate(83.30,669.45) scale(1.02,1)" font-size="18.4" font-weight="bold" text-anchor="end" stroke="#000" stroke-width="0.4" >15</text>
<line x1="98.00" y1="633.13" x2="102.90" y2="633.13" stroke="#242424" stroke-width="1.4" />
<text transform="translate(83.30,636.73) scale(1.02,1)" font-size="18.4" font-weight="bold" text-anchor="end" stroke="#000" stroke-width="0.4" >20</text>
<line x1="98.00" y1="600.42" x2="102.90" y2="600.42" stroke="#242424" stroke-width="1.4" />
<text transform="translate(83.30,604.02) scale(1.02,1)" font-size="18.4" font-weight="bold" text-anchor="end" stroke="#000" stroke-width="0.4" >25</text>
<text transform="translate(83.30,571.30) scale(1.02,1)" font-size="18.4" font-weight="bold" text-anchor="end" stroke="#000" stroke-width="0.4" >30</text>
<line x1="139.00" y1="764.00" x2="139.00" y2="756.80" stroke="#3c3c3c" stroke-width="1.15" />
<line x1="181.10" y1="764.00" x2="181.10" y2="756.80" stroke="#3c3c3c" stroke-width="1.15" />
<line x1="221.00" y1="764.00" x2="221.00" y2="756.80" stroke="#3c3c3c" stroke-width="1.15" />
<line x1="262.10" y1="764.00" x2="262.10" y2="756.80" stroke="#3c3c3c" stroke-width="1.15" />
<line x1="304.40" y1="764.00" x2="304.40" y2="756.80" stroke="#3c3c3c" stroke-width="1.15" />
<line x1="344.70" y1="764.00" x2="344.70" y2="756.80" stroke="#3c3c3c" stroke-width="1.15" />
<text x="119.80" y="783.50" font-size="16.8" font-weight="bold" text-anchor="middle" stroke="#000" stroke-width="0.4" >A</text>
<text x="159.30" y="783.50" font-size="16.8" font-weight="bold" text-anchor="middle" stroke="#000" stroke-width="0.4" >M</text>
<text x="197.20" y="783.50" font-size="16.8" font-weight="bold" text-anchor="middle" stroke="#000" stroke-width="0.4" >J</text>
<text x="242.80" y="783.50" font-size="16.8" font-weight="bold" text-anchor="middle" stroke="#000" stroke-width="0.4" >J</text>
<text x="284.50" y="783.50" font-size="16.8" font-weight="bold" text-anchor="middle" stroke="#000" stroke-width="0.4" >A</text>
<text x="327.60" y="783.50" font-size="16.8" font-weight="bold" text-anchor="middle" stroke="#000" stroke-width="0.4" >S</text>
<text transform="translate(111.40,579.80) scale(1.03,1)" font-size="22" font-weight="bold" text-anchor="start" stroke="#000" stroke-width="0.4" >e</text>
<path d="M404.90,563.70 H400.00 V765.55" fill="none" stroke="#242424" stroke-width="1.6"/>
<path d="M399.20,764.80 H645.78" fill="none" stroke="#3c3c3c" stroke-width="1.5"/>
<line x1="400.00" y1="764.80" x2="404.90" y2="764.80" stroke="#242424" stroke-width="1.4" />
<text transform="translate(385.20,768.60) scale(1.02,1)" font-size="18.4" font-weight="bold" text-anchor="end" stroke="#000" stroke-width="0.4" >0</text>
<line x1="400.00" y1="731.28" x2="404.90" y2="731.28" stroke="#242424" stroke-width="1.4" />
<text transform="translate(385.20,735.08) scale(1.02,1)" font-size="18.4" font-weight="bold" text-anchor="end" stroke="#000" stroke-width="0.4" >5</text>
<line x1="400.00" y1="697.77" x2="404.90" y2="697.77" stroke="#242424" stroke-width="1.4" />
<text transform="translate(385.20,701.57) scale(1.02,1)" font-size="18.4" font-weight="bold" text-anchor="end" stroke="#000" stroke-width="0.4" >10</text>
<line x1="400.00" y1="664.25" x2="404.90" y2="664.25" stroke="#242424" stroke-width="1.4" />
<text transform="translate(385.20,668.05) scale(1.02,1)" font-size="18.4" font-weight="bold" text-anchor="end" stroke="#000" stroke-width="0.4" >15</text>
<line x1="400.00" y1="630.73" x2="404.90" y2="630.73" stroke="#242424" stroke-width="1.4" />
<text transform="translate(385.20,634.53) scale(1.02,1)" font-size="18.4" font-weight="bold" text-anchor="end" stroke="#000" stroke-width="0.4" >20</text>
<line x1="400.00" y1="597.22" x2="404.90" y2="597.22" stroke="#242424" stroke-width="1.4" />
<text transform="translate(385.20,601.02) scale(1.02,1)" font-size="18.4" font-weight="bold" text-anchor="end" stroke="#000" stroke-width="0.4" >25</text>
<text transform="translate(385.20,567.50) scale(1.02,1)" font-size="18.4" font-weight="bold" text-anchor="end" stroke="#000" stroke-width="0.4" >30</text>
<line x1="440.20" y1="764.80" x2="440.20" y2="757.60" stroke="#3c3c3c" stroke-width="1.15" />
<line x1="481.90" y1="764.80" x2="481.90" y2="757.60" stroke="#3c3c3c" stroke-width="1.15" />
<line x1="521.80" y1="764.80" x2="521.80" y2="757.60" stroke="#3c3c3c" stroke-width="1.15" />
<line x1="563.30" y1="764.80" x2="563.30" y2="757.60" stroke="#3c3c3c" stroke-width="1.15" />
<line x1="605.40" y1="764.80" x2="605.40" y2="757.60" stroke="#3c3c3c" stroke-width="1.15" />
<line x1="645.20" y1="764.80" x2="645.20" y2="757.60" stroke="#3c3c3c" stroke-width="1.15" />
<text x="421.00" y="783.20" font-size="16.8" font-weight="bold" text-anchor="middle" stroke="#000" stroke-width="0.4" >A</text>
<text x="460.50" y="783.20" font-size="16.8" font-weight="bold" text-anchor="middle" stroke="#000" stroke-width="0.4" >M</text>
<text x="498.40" y="783.20" font-size="16.8" font-weight="bold" text-anchor="middle" stroke="#000" stroke-width="0.4" >J</text>
<text x="543.70" y="783.20" font-size="16.8" font-weight="bold" text-anchor="middle" stroke="#000" stroke-width="0.4" >J</text>
<text x="585.50" y="783.20" font-size="16.8" font-weight="bold" text-anchor="middle" stroke="#000" stroke-width="0.4" >A</text>
<text x="628.20" y="783.20" font-size="16.8" font-weight="bold" text-anchor="middle" stroke="#000" stroke-width="0.4" >S</text>
<text transform="translate(415.00,575.00) scale(1.03,1)" font-size="22" font-weight="bold" text-anchor="start" stroke="#000" stroke-width="0.4" >f</text>
<path d="M102.90,800.80 H98.00 V992.55" fill="none" stroke="#242424" stroke-width="1.6"/>
<path d="M97.20,991.80 H343.88" fill="none" stroke="#3c3c3c" stroke-width="1.5"/>
<line x1="98.00" y1="991.80" x2="102.90" y2="991.80" stroke="#242424" stroke-width="1.4" />
<text transform="translate(82.30,995.40) scale(1.02,1)" font-size="18.4" font-weight="bold" text-anchor="end" stroke="#000" stroke-width="0.4" >0</text>
<line x1="98.00" y1="953.60" x2="102.90" y2="953.60" stroke="#242424" stroke-width="1.4" />
<text transform="translate(82.30,957.20) scale(1.02,1)" font-size="18.4" font-weight="bold" text-anchor="end" stroke="#000" stroke-width="0.4" >0.5</text>
<line x1="98.00" y1="915.40" x2="102.90" y2="915.40" stroke="#242424" stroke-width="1.4" />
<text transform="translate(82.30,919.00) scale(1.02,1)" font-size="18.4" font-weight="bold" text-anchor="end" stroke="#000" stroke-width="0.4" >1.0</text>
<line x1="98.00" y1="877.20" x2="102.90" y2="877.20" stroke="#242424" stroke-width="1.4" />
<text transform="translate(82.30,880.80) scale(1.02,1)" font-size="18.4" font-weight="bold" text-anchor="end" stroke="#000" stroke-width="0.4" >1.5</text>
<line x1="98.00" y1="839.00" x2="102.90" y2="839.00" stroke="#242424" stroke-width="1.4" />
<text transform="translate(82.30,842.60) scale(1.02,1)" font-size="18.4" font-weight="bold" text-anchor="end" stroke="#000" stroke-width="0.4" >2.0</text>
<text transform="translate(82.30,804.40) scale(1.02,1)" font-size="18.4" font-weight="bold" text-anchor="end" stroke="#000" stroke-width="0.4" >2.5</text>
<line x1="137.80" y1="991.80" x2="137.80" y2="984.60" stroke="#3c3c3c" stroke-width="1.15" />
<line x1="179.60" y1="991.80" x2="179.60" y2="984.60" stroke="#3c3c3c" stroke-width="1.15" />
<line x1="219.70" y1="991.80" x2="219.70" y2="984.60" stroke="#3c3c3c" stroke-width="1.15" />
<line x1="260.80" y1="991.80" x2="260.80" y2="984.60" stroke="#3c3c3c" stroke-width="1.15" />
<line x1="302.90" y1="991.80" x2="302.90" y2="984.60" stroke="#3c3c3c" stroke-width="1.15" />
<line x1="343.30" y1="991.80" x2="343.30" y2="984.60" stroke="#3c3c3c" stroke-width="1.15" />
<text x="118.50" y="1011.30" font-size="16.8" font-weight="bold" text-anchor="middle" stroke="#000" stroke-width="0.4" >A</text>
<text x="157.90" y="1011.30" font-size="16.8" font-weight="bold" text-anchor="middle" stroke="#000" stroke-width="0.4" >M</text>
<text x="195.90" y="1011.30" font-size="16.8" font-weight="bold" text-anchor="middle" stroke="#000" stroke-width="0.4" >J</text>
<text x="241.30" y="1011.30" font-size="16.8" font-weight="bold" text-anchor="middle" stroke="#000" stroke-width="0.4" >J</text>
<text x="283.00" y="1011.30" font-size="16.8" font-weight="bold" text-anchor="middle" stroke="#000" stroke-width="0.4" >A</text>
<text x="325.90" y="1011.30" font-size="16.8" font-weight="bold" text-anchor="middle" stroke="#000" stroke-width="0.4" >S</text>
<text transform="translate(115.00,820.00) scale(1.03,1)" font-size="22" font-weight="bold" text-anchor="start" stroke="#000" stroke-width="0.4" >g</text>
<path d="M405.30,803.10 H400.40 V993.35" fill="none" stroke="#242424" stroke-width="1.6"/>
<path d="M399.60,992.60 H645.28" fill="none" stroke="#3c3c3c" stroke-width="1.5"/>
<line x1="400.40" y1="992.60" x2="405.30" y2="992.60" stroke="#242424" stroke-width="1.4" />
<text transform="translate(384.00,996.40) scale(1.02,1)" font-size="18.4" font-weight="bold" text-anchor="end" stroke="#000" stroke-width="0.4" >0</text>
<line x1="400.40" y1="954.70" x2="405.30" y2="954.70" stroke="#242424" stroke-width="1.4" />
<text transform="translate(384.00,958.50) scale(1.02,1)" font-size="18.4" font-weight="bold" text-anchor="end" stroke="#000" stroke-width="0.4" >0.5</text>
<line x1="400.40" y1="916.80" x2="405.30" y2="916.80" stroke="#242424" stroke-width="1.4" />
<text transform="translate(384.00,920.60) scale(1.02,1)" font-size="18.4" font-weight="bold" text-anchor="end" stroke="#000" stroke-width="0.4" >1.0</text>
<line x1="400.40" y1="878.90" x2="405.30" y2="878.90" stroke="#242424" stroke-width="1.4" />
<text transform="translate(384.00,882.70) scale(1.02,1)" font-size="18.4" font-weight="bold" text-anchor="end" stroke="#000" stroke-width="0.4" >1.5</text>
<line x1="400.40" y1="841.00" x2="405.30" y2="841.00" stroke="#242424" stroke-width="1.4" />
<text transform="translate(384.00,844.80) scale(1.02,1)" font-size="18.4" font-weight="bold" text-anchor="end" stroke="#000" stroke-width="0.4" >2.0</text>
<text transform="translate(384.00,806.90) scale(1.02,1)" font-size="18.4" font-weight="bold" text-anchor="end" stroke="#000" stroke-width="0.4" >2.5</text>
<line x1="439.20" y1="992.60" x2="439.20" y2="985.40" stroke="#3c3c3c" stroke-width="1.15" />
<line x1="481.30" y1="992.60" x2="481.30" y2="985.40" stroke="#3c3c3c" stroke-width="1.15" />
<line x1="521.30" y1="992.60" x2="521.30" y2="985.40" stroke="#3c3c3c" stroke-width="1.15" />
<line x1="562.30" y1="992.60" x2="562.30" y2="985.40" stroke="#3c3c3c" stroke-width="1.15" />
<line x1="604.40" y1="992.60" x2="604.40" y2="985.40" stroke="#3c3c3c" stroke-width="1.15" />
<line x1="644.70" y1="992.60" x2="644.70" y2="985.40" stroke="#3c3c3c" stroke-width="1.15" />
<text x="420.00" y="1011.50" font-size="16.8" font-weight="bold" text-anchor="middle" stroke="#000" stroke-width="0.4" >A</text>
<text x="459.50" y="1011.50" font-size="16.8" font-weight="bold" text-anchor="middle" stroke="#000" stroke-width="0.4" >M</text>
<text x="497.50" y="1011.50" font-size="16.8" font-weight="bold" text-anchor="middle" stroke="#000" stroke-width="0.4" >J</text>
<text x="542.80" y="1011.50" font-size="16.8" font-weight="bold" text-anchor="middle" stroke="#000" stroke-width="0.4" >J</text>
<text x="584.50" y="1011.50" font-size="16.8" font-weight="bold" text-anchor="middle" stroke="#000" stroke-width="0.4" >A</text>
<text x="627.60" y="1011.50" font-size="16.8" font-weight="bold" text-anchor="middle" stroke="#000" stroke-width="0.4" >S</text>
<text transform="translate(429.00,813.00) scale(1.03,1)" font-size="22" font-weight="bold" text-anchor="start" stroke="#000" stroke-width="0.4" >h</text>
</svg>
</body>
</html>
